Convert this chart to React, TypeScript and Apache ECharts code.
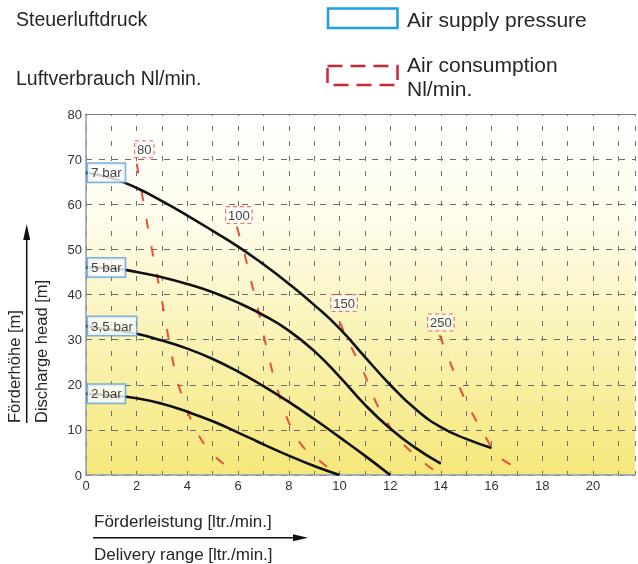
import React, { useEffect, useRef } from "react";
import * as echarts from "echarts";

const FONT = "'Liberation Sans', Arial, sans-serif";

// Pressure curves (x: delivery l/min, y: head m)
const pressureNames = ["7 bar", "5 bar", "3,5 bar", "2 bar"];
const curve7bar = [[0, 67], [1, 65.8], [2, 63.6], [3, 60.7], [4, 57.5], [5, 54.1], [6, 50.6], [7, 46.7], [8, 42.4], [9, 37.7], [10, 32.5], [11, 26.2], [12, 20], [13, 14.6], [14, 10.6], [15, 8], [16, 6]];
const curve5bar = [[0, 46], [1, 45.8], [2, 45], [3, 43.8], [4, 42.3], [5, 40.5], [6, 38.2], [7, 35.4], [8, 32], [9, 27.5], [10, 21.8], [11, 15.6], [12, 10.3], [13, 6], [14, 2.5]];
const curve35bar = [[0, 33], [1, 32.2], [2, 31.3], [3, 29.8], [4, 28], [5, 25.7], [6, 22.9], [7, 19.7], [8, 16.2], [9, 12.4], [10, 8.4], [11, 4.3], [12, 0]];
const curve2bar = [[0, 18], [1, 17.6], [2, 17], [3, 15.8], [4, 14], [5, 11.9], [6, 9.4], [7, 6.8], [8, 4.3], [9, 2], [10, 0]];
const pressureCurves = [curve7bar, curve5bar, curve35bar, curve2bar];

// Air consumption curves (Nl/min)
const airNames = ["80", "100", "150", "250"];
const air80 = [[2.0, 69], [2.25, 61], [2.6, 50], [2.95, 40], [3.3, 29], [3.6, 21], [3.95, 15], [4.25, 11], [4.7, 6.5], [5.1, 4], [5.6, 1.8]];
const air100 = [[5.95, 55], [6.3, 48], [6.6, 41], [6.9, 34], [7.15, 27.5], [7.45, 21], [7.75, 15.5], [8.1, 10.5], [8.6, 6], [9.2, 3.2], [9.9, 0]];
const air150 = [[10, 34], [10.45, 28.5], [10.9, 23.5], [11.45, 16], [11.85, 12], [12.25, 8.5], [12.9, 4.8], [13.5, 2], [14, 0]];
const air250 = [[13.95, 31], [14.4, 24.5], [14.85, 18], [15.35, 12.5], [15.75, 8.5], [16.15, 5], [16.6, 2.8], [17.25, 1]];
const airCurves = [air80, air100, air150, air250];
const airLabelPos = [[2.3, 72.2], [6.03, 57.6], [10.18, 38.1], [14.0, 33.8]];

export default function App() {
  const ref = useRef<HTMLDivElement>(null);
  useEffect(() => {
    if (!ref.current) return;
    const chart = echarts.init(ref.current, null, { renderer: "svg" });

    const series: any[] = [];
    pressureCurves.forEach((pts, i) => {
      series.push({
        name: pressureNames[i],
        type: "line",
        data: pts,
        smooth: 0.5,
        symbol: "none",
        lineStyle: { color: "#111", width: 2.6 },
        z: 3,
      });
    });
    airCurves.forEach((pts, i) => {
      series.push({
        name: airNames[i],
        type: "line",
        data: pts,
        smooth: 0.4,
        symbol: "none",
        lineStyle: { color: "#e8503a", width: 2, type: [10, 18] },
        z: 2,
      });
    });
    series.push({
      type: "scatter",
      symbolSize: 1,
      itemStyle: { color: "rgba(0,0,0,0)" },
      z: 5,
      data: pressureCurves.map((pts, i) => ({ name: pressureNames[i], value: pts[0] })),
      label: {
        show: true,
        position: "right",
        distance: 1.5,
        formatter: (p: any) => p.name,
        color: "#111",
        fontSize: 13.5,
        fontFamily: FONT,
        lineHeight: 15,
        backgroundColor: "#fff",
        borderColor: "#5b9fd9",
        borderWidth: 1.5,
        padding: [1.5, 3],
      },
    });
    series.push({
      type: "scatter",
      symbolSize: 1,
      itemStyle: { color: "rgba(0,0,0,0)" },
      z: 5,
      data: airLabelPos.map((p, i) => ({ name: airNames[i], value: p })),
      label: {
        show: true,
        position: "inside",
        formatter: (p: any) => p.name,
        color: "#111",
        fontSize: 13,
        fontFamily: FONT,
        lineHeight: 14,
        backgroundColor: "#fff",
        borderColor: "#e8503a",
        borderWidth: 1,
        borderType: [4, 3],
        padding: [1, 2],
      },
    });

    const textStyle = (text: string, size: number) => ({
      text,
      fontSize: size,
      fontFamily: FONT,
      fill: "#262626",
      align: "left",
      verticalAlign: "middle",
    });

    chart.setOption({
      animation: false,
      grid: {
        left: 86,
        right: 0,
        top: 114,
        bottom: 89,
        show: true,
        borderWidth: 0,
        backgroundColor: new echarts.graphic.LinearGradient(0, 0, 0, 1, [
          { offset: 0, color: "#ffffff" },
          { offset: 0.3, color: "#fefcea" },
          { offset: 0.65, color: "#f9f2b0" },
          { offset: 1, color: "#f5e779" },
        ]),
      },
      xAxis: [
        {
          type: "value",
          min: 0,
          max: 21.66,
          interval: 1,
          axisLine: { show: true, lineStyle: { color: "#8c9db5", width: 1.5 } },
          axisTick: { show: false },
          axisLabel: {
            formatter: (v: number) => (Number.isInteger(v) && v % 2 === 0 && v <= 20 ? String(v) : ""),
            color: "#333",
            fontSize: 13,
            fontFamily: FONT,
            margin: 4,
          },
          splitLine: { show: true, lineStyle: { color: "#707070", width: 1, type: [5, 10], dashOffset: 2.5 } },
        },
        {
          type: "value",
          position: "top",
          min: 0,
          max: 21.66,
          interval: 1,
          axisLine: { show: true, lineStyle: { color: "#7a7a7a", width: 1.2 } },
          axisTick: { show: false },
          axisLabel: { show: false },
          splitLine: { show: false },
        },
      ],
      yAxis: {
        type: "value",
        min: 0,
        max: 80,
        interval: 10,
        axisLine: { show: true, lineStyle: { color: "#8c9db5", width: 1.5 } },
        axisTick: { show: false },
        axisLabel: { color: "#333", fontSize: 13, fontFamily: FONT, margin: 4 },
        splitLine: { show: true, lineStyle: { color: "#6b6b6b", width: 1, type: [6, 7] } },
      },
      series,
      graphic: [
        { type: "text", x: 16, y: 19, style: textStyle("Steuerluftdruck", 19.5) },
        { type: "text", x: 16, y: 78, style: textStyle("Luftverbrauch Nl/min.", 19.5) },
        { type: "text", x: 407, y: 19.3, style: textStyle("Air supply pressure", 21) },
        { type: "text", x: 407, y: 64.7, style: textStyle("Air consumption", 21) },
        { type: "text", x: 407, y: 88.7, style: textStyle("Nl/min.", 21) },
        {
          type: "rect",
          shape: { x: 328, y: 8.5, width: 69.5, height: 19.5 },
          style: { fill: "none", stroke: "#1ea0e0", lineWidth: 2.5 },
        },
        {
          type: "rect",
          shape: { x: 327.5, y: 66, width: 70, height: 19 },
          style: { fill: "none", stroke: "#c8283a", lineWidth: 2.5, lineDash: [15, 8] },
        },
        { type: "text", x: 14, y: 423, rotation: Math.PI / 2, style: textStyle("Förderhöhe [m]", 16.5) },
        { type: "text", x: 41, y: 423, rotation: Math.PI / 2, style: textStyle("Discharge head [m]", 16.5) },
        {
          type: "line",
          shape: { x1: 26.7, y1: 423, x2: 26.7, y2: 238 },
          style: { stroke: "#111", lineWidth: 1.5 },
        },
        {
          type: "polygon",
          shape: { points: [[26.7, 224], [23.2, 240], [30.2, 240]] },
          style: { fill: "#111" },
        },
        { type: "text", x: 94, y: 521, style: textStyle("Förderleistung [ltr./min.]", 17) },
        { type: "text", x: 94, y: 554, style: textStyle("Delivery range [ltr./min.]", 17) },
        {
          type: "line",
          shape: { x1: 93, y1: 537.7, x2: 296, y2: 537.7 },
          style: { stroke: "#111", lineWidth: 1.5 },
        },
        {
          type: "polygon",
          shape: { points: [[308, 537.7], [293, 534.2], [293, 541.2]] },
          style: { fill: "#111" },
        },
      ],
    });
    return () => chart.dispose();
  }, []);
  return <div ref={ref} style={{ position: "fixed", left: 0, top: 0, width: 638, height: 564 }} />;
}
